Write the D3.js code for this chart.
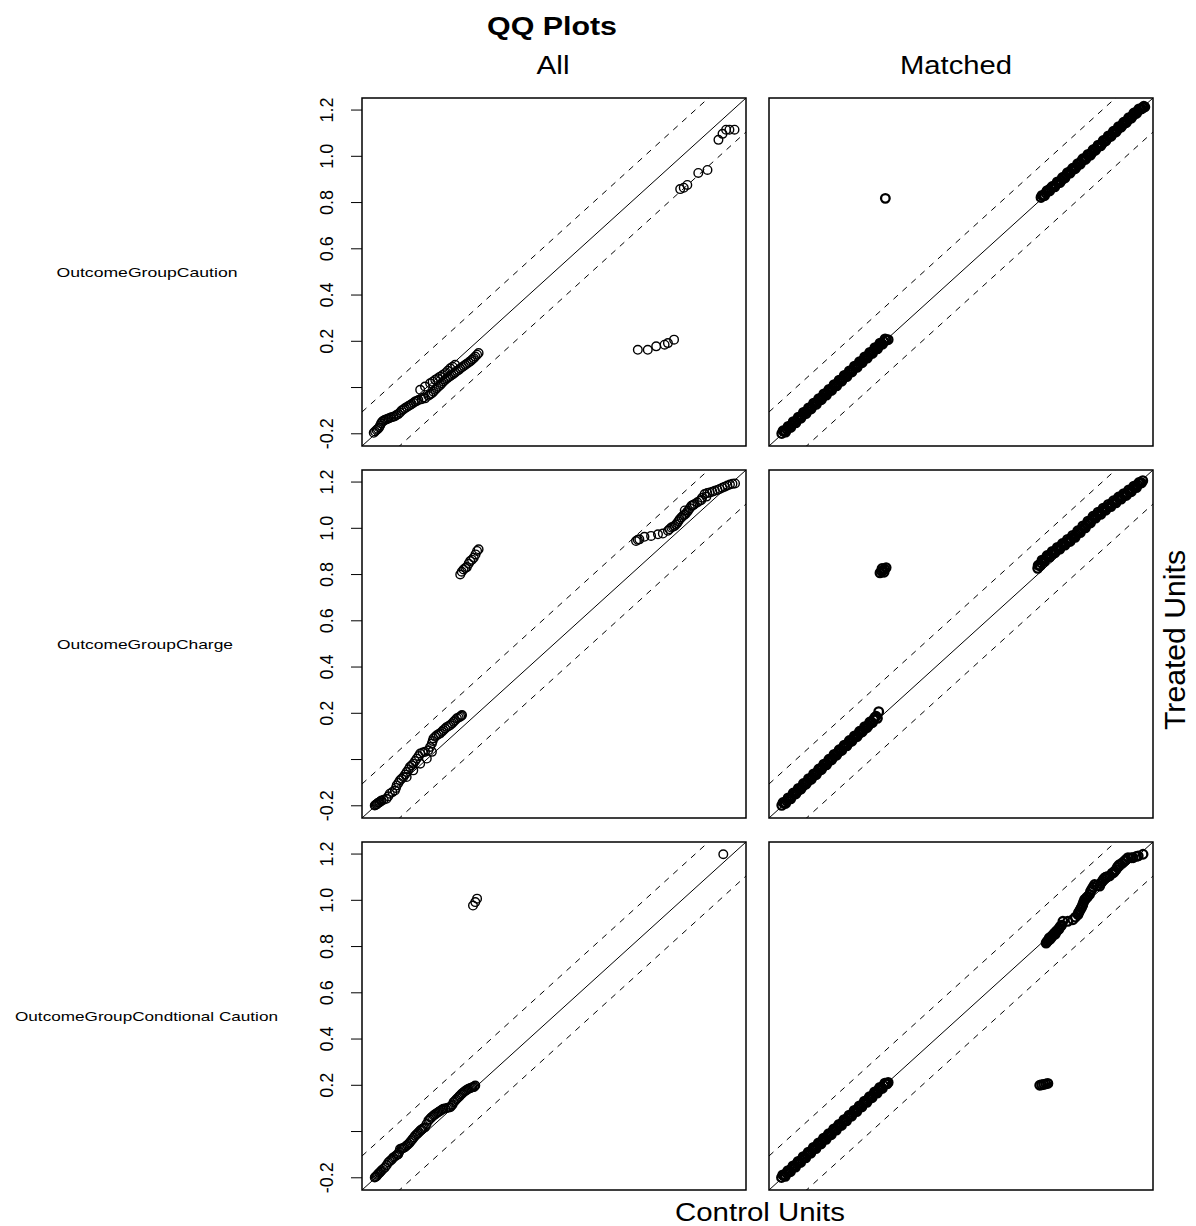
<!doctype html>
<html>
<head>
<script src="https://cdnjs.cloudflare.com/ajax/libs/d3/7.8.5/d3.min.js"></script>
<style>
  body { margin: 0; background: #fff; }
  text { font-family: "Liberation Sans", Arial, sans-serif; fill: #000; }
  .frame { fill: none; stroke: #000; stroke-width: 1.5; }
  .pt { fill: none; stroke: #000; stroke-width: 1.4; }
  .pt.dense { stroke-width: 2.3; }
  .ref { fill: none; stroke: #000; stroke-width: 1; }
  .dash { stroke-dasharray: 6,6; }
  .tick line { stroke: #000; stroke-width: 1; }
  .domain { display: none; }
</style>
</head>
<body>
<svg width="1196" height="1226"></svg>
<script>
// labels
const title = "QQ Plots";
const colLabels = ["All", "Matched"];
const rowLabels = ["OutcomeGroupCaution", "OutcomeGroupCharge", "OutcomeGroupCondtional Caution"];
const xLabel = "Control Units";
const yLabel = "Treated Units";
const yTicks = [-0.2, 0, 0.2, 0.4, 0.6, 0.8, 1.0, 1.2];
const yTickLabels = ["-0.2", "", "0.2", "0.4", "0.6", "0.8", "1.0", "1.2"];

// [control quantile, treated quantile]
const qqAllCaution = [
  [-0.209,-0.198],[-0.198,-0.186],[-0.188,-0.175],[-0.180,-0.157],[-0.172,-0.146],[-0.161,-0.140],[-0.151,-0.136],
  [-0.139,-0.131],[-0.126,-0.126],[-0.113,-0.117],[-0.100,-0.102],[-0.087,-0.092],[-0.073,-0.082],[-0.060,-0.073],
  [-0.047,-0.063],[-0.034,-0.056],[-0.021,-0.053],[-0.008,-0.049],[0.005,-0.038],[0.019,-0.027],[0.032,-0.012],
  [0.045,0.002],[0.058,0.016],[0.071,0.031],[0.084,0.042],[0.097,0.052],[0.110,0.063],[0.124,0.074],[0.137,0.086],
  [0.150,0.096],[0.163,0.106],[0.176,0.118],[0.189,0.132],[0.202,0.147],
  [-0.027,-0.012],[-0.008,0.002],[0.012,0.016],[0.032,0.031],[0.051,0.045],[0.071,0.060],[0.091,0.081],[0.110,0.096],
  [-0.204,-0.192],[-0.193,-0.181],[-0.184,-0.166],[-0.176,-0.150],[-0.166,-0.143],[-0.156,-0.138],[-0.145,-0.133],
  [-0.132,-0.128],[-0.120,-0.121],[-0.106,-0.110],[-0.093,-0.097],[-0.080,-0.087],[-0.066,-0.078],[-0.053,-0.068],
  [-0.040,-0.060],[-0.014,-0.045],[0.012,-0.032],[0.025,-0.020],[0.038,-0.005],[0.052,0.009],[0.064,0.024],
  [0.078,0.037],[0.090,0.047],[0.104,0.058],[0.117,0.069],[0.130,0.080],[0.144,0.091],[0.156,0.101],[0.170,0.112],
  [0.183,0.125],[0.196,0.140],[0.022,0.023],[0.042,0.038],[0.061,0.052],[0.081,0.070],[0.100,0.088],
  [0.826,0.161],[0.865,0.161],[0.898,0.176],[0.931,0.183],[0.944,0.190],[0.968,0.205],
  [0.992,0.856],[1.006,0.862],[1.020,0.874],[1.063,0.926],[1.099,0.939],[1.142,1.069],[1.158,1.095],
  [1.172,1.113],[1.185,1.113],[1.205,1.113]
];

const qqMatchedCaution = [
  [-0.205,-0.201],[-0.195,-0.192],[-0.185,-0.183],[-0.175,-0.171],[-0.165,-0.163],[-0.155,-0.151],[-0.145,-0.142],
  [-0.135,-0.131],[-0.125,-0.124],[-0.115,-0.110],[-0.105,-0.103],[-0.095,-0.091],[-0.085,-0.083],[-0.075,-0.070],
  [-0.065,-0.063],[-0.055,-0.050],[-0.045,-0.044],[-0.035,-0.031],[-0.025,-0.022],[-0.015,-0.012],[-0.005,-0.003],
  [0.005,0.009],[0.015,0.017],[0.025,0.030],[0.035,0.037],[0.045,0.049],[0.055,0.057],[0.065,0.070],[0.075,0.077],
  [0.085,0.089],[0.095,0.097],[0.105,0.109],[0.115,0.117],[0.125,0.129],[0.135,0.137],[0.145,0.149],[0.155,0.157],
  [0.165,0.169],[0.175,0.177],[0.185,0.189],[0.195,0.197],[0.205,0.203],[0.212,0.205],
  [-0.200,-0.189],[-0.190,-0.195],[-0.180,-0.170],[-0.170,-0.175],[-0.160,-0.150],[-0.150,-0.155],[-0.140,-0.130],
  [-0.130,-0.135],[-0.120,-0.110],[-0.110,-0.115],[-0.100,-0.090],[-0.090,-0.095],[-0.080,-0.070],[-0.070,-0.075],
  [-0.060,-0.050],[-0.050,-0.055],[-0.040,-0.030],[-0.030,-0.035],[-0.020,-0.010],[-0.010,-0.015],[0.000,0.010],
  [0.010,0.005],[0.020,0.030],[0.030,0.025],[0.040,0.050],[0.050,0.045],[0.060,0.070],[0.070,0.065],[0.080,0.090],
  [0.090,0.085],[0.100,0.110],[0.110,0.105],[0.120,0.130],[0.130,0.125],[0.140,0.150],[0.150,0.145],[0.160,0.170],
  [0.170,0.165],[0.180,0.190],[0.190,0.185],[0.200,0.208],
  [0.201,0.816],
  [0.811,0.820],[0.820,0.828],[0.830,0.840],[0.840,0.851],[0.850,0.860],[0.860,0.868],[0.870,0.876],[0.880,0.886],
  [0.890,0.893],[0.900,0.905],[0.910,0.917],[0.920,0.928],[0.930,0.936],[0.940,0.944],[0.950,0.953],[0.960,0.966],
  [0.970,0.977],[0.980,0.986],[0.990,0.993],[1.000,1.004],[1.010,1.013],[1.020,1.025],[1.030,1.036],[1.040,1.044],
  [1.050,1.052],[1.060,1.063],[1.070,1.074],[1.080,1.085],[1.090,1.094],[1.100,1.103],[1.110,1.113],[1.120,1.124],
  [1.130,1.133],[1.140,1.143],[1.150,1.153],[1.160,1.163],[1.170,1.173],[1.180,1.183],[1.190,1.193],[1.200,1.202],
  [1.210,1.208],[1.218,1.211],
  [0.815,0.829],[0.825,0.828],[0.835,0.849],[0.845,0.848],[0.855,0.867],[0.865,0.866],[0.875,0.887],[0.885,0.884],
  [0.895,0.906],[0.905,0.904],[0.915,0.927],[0.925,0.925],[0.935,0.946],[0.945,0.944],[0.955,0.966],[0.965,0.964],
  [0.975,0.987],[0.985,0.984],[0.995,1.006],[1.005,1.003],[1.015,1.026],[1.025,1.024],[1.035,1.046],[1.045,1.043],
  [1.055,1.066],[1.065,1.064],[1.075,1.086],[1.085,1.084],[1.095,1.106],[1.105,1.103],[1.115,1.126],[1.125,1.124],
  [1.135,1.145],[1.145,1.143],[1.155,1.165],[1.165,1.163],[1.175,1.185],[1.185,1.183],[1.195,1.203],[1.205,1.203],
  [1.214,1.214]
];

const qqAllCharge = [
  [-0.205,-0.201],[-0.198,-0.196],[-0.192,-0.189],[-0.185,-0.186],[-0.178,-0.179],[-0.159,-0.172],[-0.146,-0.150],
  [-0.126,-0.136],[-0.119,-0.114],[-0.106,-0.092],[-0.093,-0.078],[-0.080,-0.056],[-0.067,-0.034],[-0.054,-0.020],
  [-0.040,0.002],[-0.027,0.024],[-0.008,0.031],[0.005,0.038],[0.019,0.067],[0.025,0.089],[0.038,0.103],[0.051,0.111],
  [0.064,0.125],[0.078,0.139],[0.091,0.147],[0.104,0.161],[0.117,0.176],[0.130,0.183],[0.137,0.190],
  [-0.080,-0.078],[-0.054,-0.049],[-0.027,-0.020],[-0.001,0.002],[0.019,0.031],
  [-0.202,-0.199],[-0.195,-0.193],[-0.188,-0.188],[-0.181,-0.182],[-0.170,-0.176],[-0.152,-0.161],[-0.136,-0.143],
  [-0.122,-0.125],[-0.112,-0.103],[-0.100,-0.085],[-0.086,-0.067],[-0.073,-0.045],[-0.060,-0.027],[-0.047,-0.009],
  [-0.033,0.013],[-0.017,0.028],[0.012,0.052],[0.022,0.078],[0.032,0.096],[0.045,0.107],[0.058,0.118],[0.071,0.132],
  [0.085,0.143],[0.098,0.154],[0.110,0.168],[0.124,0.180],[0.134,0.187],
  [0.130,0.798],[0.136,0.810],[0.143,0.820],[0.150,0.826],[0.156,0.830],[0.163,0.845],[0.169,0.856],[0.176,0.862],
  [0.183,0.871],[0.190,0.885],[0.196,0.900],[0.202,0.907],
  [0.819,0.943],[0.826,0.948],[0.832,0.950],[0.852,0.961],[0.878,0.965],[0.905,0.972],[0.924,0.975],[0.944,0.987],
  [0.957,1.001],[0.970,1.008],[0.980,1.020],[0.990,1.037],[1.003,1.052],[1.013,1.060],[1.023,1.074],[1.036,1.095],
  [1.049,1.103],[1.069,1.117],[1.088,1.146],[1.108,1.153],[1.128,1.160],[1.147,1.168],[1.167,1.178],[1.187,1.187],
  [1.207,1.192],
  [1.010,1.075],[1.043,1.098],[1.075,1.120],[1.095,1.135],
  [0.950,0.994],[0.964,1.005],[0.975,1.014],[0.985,1.028],[0.997,1.045],[1.008,1.056],[1.018,1.067],[1.030,1.085],
  [1.042,1.099],[1.059,1.110],[1.078,1.130],[1.098,1.150],[1.118,1.156],[1.138,1.164],[1.157,1.173],[1.177,1.183],
  [1.197,1.190]
];

const qqMatchedCharge = [
  [-0.205,-0.200],[-0.195,-0.191],[-0.185,-0.181],[-0.175,-0.172],[-0.165,-0.161],[-0.155,-0.150],[-0.145,-0.141],
  [-0.135,-0.130],[-0.125,-0.120],[-0.115,-0.109],[-0.105,-0.099],[-0.095,-0.088],[-0.085,-0.078],[-0.075,-0.067],
  [-0.065,-0.057],[-0.055,-0.046],[-0.045,-0.035],[-0.035,-0.025],[-0.025,-0.014],[-0.015,-0.004],[-0.005,0.006],
  [0.005,0.017],[0.015,0.028],[0.025,0.037],[0.035,0.049],[0.045,0.058],[0.055,0.068],[0.065,0.077],[0.075,0.088],
  [0.085,0.097],[0.095,0.107],[0.105,0.116],[0.115,0.126],[0.125,0.135],[0.135,0.146],[0.145,0.158],[0.155,0.170],
  [0.165,0.185],[0.175,0.205],
  [-0.200,-0.188],[-0.190,-0.192],[-0.180,-0.168],[-0.170,-0.172],[-0.160,-0.147],[-0.150,-0.151],[-0.140,-0.127],
  [-0.130,-0.130],[-0.120,-0.106],[-0.110,-0.109],[-0.100,-0.085],[-0.090,-0.088],[-0.080,-0.064],[-0.070,-0.067],
  [-0.060,-0.043],[-0.050,-0.046],[-0.040,-0.022],[-0.030,-0.025],[-0.020,-0.001],[-0.010,-0.004],[0.000,0.020],
  [0.010,0.017],[0.020,0.040],[0.030,0.037],[0.040,0.060],[0.050,0.057],[0.060,0.080],[0.070,0.077],[0.080,0.100],
  [0.090,0.097],[0.100,0.120],[0.110,0.117],[0.120,0.140],[0.130,0.137],[0.140,0.160],[0.150,0.157],[0.160,0.180],
  [0.170,0.176],
  [0.180,0.805],[0.186,0.812],[0.192,0.816],[0.198,0.822],[0.204,0.828],[0.188,0.824],[0.196,0.808],
  [0.798,0.825],[0.805,0.838],[0.812,0.848],[0.820,0.857],[0.830,0.868],[0.840,0.877],[0.850,0.886],[0.860,0.895],
  [0.870,0.903],[0.880,0.912],[0.890,0.920],[0.900,0.929],[0.910,0.937],[0.920,0.945],[0.930,0.953],[0.940,0.962],
  [0.950,0.972],[0.960,0.982],[0.970,0.993],[0.980,1.003],[0.990,1.014],[1.000,1.025],[1.010,1.035],[1.020,1.046],
  [1.030,1.054],[1.040,1.062],[1.050,1.071],[1.060,1.080],[1.070,1.088],[1.080,1.096],[1.090,1.104],[1.100,1.112],
  [1.110,1.120],[1.120,1.128],[1.130,1.136],[1.140,1.143],[1.150,1.151],[1.160,1.159],[1.170,1.168],[1.180,1.177],
  [1.190,1.186],[1.200,1.195],[1.210,1.204],
  [0.800,0.838],[0.808,0.836],[0.815,0.860],[0.825,0.855],[0.835,0.880],[0.845,0.873],[0.855,0.898],[0.865,0.891],
  [0.875,0.915],[0.885,0.908],[0.895,0.932],[0.905,0.925],[0.915,0.950],[0.925,0.941],[0.935,0.967],[0.945,0.959],
  [0.955,0.987],[0.965,0.979],[0.975,1.008],[0.985,1.000],[0.995,1.029],[1.005,1.021],[1.015,1.050],[1.025,1.042],
  [1.035,1.068],[1.045,1.058],[1.055,1.085],[1.065,1.076],[1.075,1.101],[1.085,1.092],[1.095,1.117],[1.105,1.108],
  [1.115,1.133],[1.125,1.124],[1.135,1.148],[1.145,1.140],[1.155,1.164],[1.165,1.156],[1.175,1.180],[1.185,1.174],
  [1.195,1.196],[1.205,1.194]
];

const qqAllCondCaution = [
  [-0.205,-0.201],[-0.198,-0.195],[-0.192,-0.186],[-0.185,-0.179],[-0.178,-0.170],[-0.165,-0.157],[-0.152,-0.136],
  [-0.140,-0.125],[-0.132,-0.114],[-0.120,-0.105],[-0.113,-0.100],[-0.106,-0.078],[-0.095,-0.074],[-0.087,-0.070],
  [-0.077,-0.060],[-0.067,-0.049],[-0.057,-0.035],[-0.047,-0.020],[-0.037,-0.010],[-0.027,0.002],[-0.018,0.010],
  [-0.008,0.016],[0.005,0.045],[0.015,0.057],[0.025,0.067],[0.035,0.075],[0.045,0.082],[0.055,0.090],[0.064,0.096],
  [0.078,0.100],[0.091,0.103],[0.100,0.115],[0.104,0.125],[0.114,0.136],[0.124,0.147],[0.133,0.158],[0.143,0.168],
  [0.153,0.176],[0.163,0.183],[0.173,0.187],[0.183,0.190],[0.189,0.197],
  [-0.202,-0.198],[-0.195,-0.190],[-0.188,-0.182],[-0.182,-0.175],[-0.172,-0.164],[-0.158,-0.147],[-0.146,-0.130],
  [-0.136,-0.120],[-0.126,-0.110],[-0.116,-0.102],[-0.109,-0.090],[-0.100,-0.076],[-0.091,-0.072],[-0.082,-0.065],
  [-0.072,-0.055],[-0.062,-0.042],[-0.052,-0.028],[-0.042,-0.015],[-0.032,-0.004],[-0.022,0.006],[-0.013,0.013],
  [-0.002,0.030],[0.010,0.051],[0.020,0.062],[0.030,0.071],[0.040,0.079],[0.050,0.086],[0.060,0.093],[0.071,0.098],
  [0.085,0.102],[0.096,0.109],[0.109,0.130],[0.119,0.142],[0.128,0.152],[0.138,0.163],[0.148,0.172],[0.158,0.180],
  [0.168,0.185],[0.178,0.189],[0.186,0.194],
  [0.180,0.975],[0.189,0.990],[0.196,1.005],
  [1.161,1.197]
];

const qqMatchedCondCaution = [
  [-0.206,-0.201],[-0.196,-0.193],[-0.186,-0.182],[-0.176,-0.173],[-0.166,-0.162],[-0.156,-0.153],[-0.146,-0.142],
  [-0.136,-0.133],[-0.126,-0.122],[-0.116,-0.113],[-0.106,-0.102],[-0.096,-0.093],[-0.086,-0.082],[-0.076,-0.073],
  [-0.066,-0.062],[-0.056,-0.053],[-0.046,-0.042],[-0.036,-0.033],[-0.026,-0.022],[-0.016,-0.013],[-0.006,-0.002],
  [0.004,0.007],[0.014,0.018],[0.024,0.027],[0.034,0.038],[0.044,0.047],[0.054,0.058],[0.064,0.067],[0.074,0.078],
  [0.084,0.087],[0.094,0.098],[0.104,0.107],[0.114,0.118],[0.124,0.127],[0.134,0.138],[0.144,0.147],[0.154,0.158],
  [0.164,0.167],[0.174,0.178],[0.184,0.187],[0.194,0.197],[0.204,0.205],[0.212,0.210],
  [-0.201,-0.190],[-0.191,-0.196],[-0.181,-0.171],[-0.171,-0.176],[-0.161,-0.151],[-0.151,-0.156],[-0.141,-0.131],
  [-0.131,-0.136],[-0.121,-0.111],[-0.111,-0.116],[-0.101,-0.091],[-0.091,-0.096],[-0.081,-0.071],[-0.071,-0.076],
  [-0.061,-0.051],[-0.051,-0.056],[-0.041,-0.031],[-0.031,-0.036],[-0.021,-0.011],[-0.011,-0.016],[-0.001,0.009],
  [0.009,0.004],[0.019,0.029],[0.029,0.024],[0.039,0.049],[0.049,0.044],[0.059,0.069],[0.069,0.064],[0.079,0.089],
  [0.089,0.084],[0.099,0.109],[0.109,0.104],[0.119,0.129],[0.129,0.124],[0.139,0.149],[0.149,0.144],[0.159,0.169],
  [0.169,0.164],[0.179,0.189],[0.189,0.184],[0.199,0.207],[0.208,0.204],
  [0.806,0.198],[0.814,0.200],[0.822,0.202],[0.830,0.204],[0.838,0.206],
  [0.831,0.813],[0.838,0.822],[0.844,0.835],[0.850,0.840],[0.857,0.846],[0.864,0.856],[0.870,0.862],[0.877,0.870],
  [0.883,0.878],[0.897,0.907],[0.916,0.907],[0.936,0.914],[0.946,0.925],[0.956,0.936],[0.962,0.950],[0.969,0.965],
  [0.975,0.980],[0.982,1.001],[0.990,1.010],[1.001,1.023],[1.010,1.045],[1.021,1.066],[1.031,1.062],[1.041,1.059],
  [1.051,1.080],[1.061,1.095],[1.070,1.100],[1.080,1.103],[1.090,1.115],[1.100,1.124],[1.110,1.140],[1.120,1.153],
  [1.130,1.160],[1.139,1.168],[1.152,1.182],[1.165,1.182],[1.172,1.182],[1.185,1.188],[1.192,1.190],[1.211,1.197],
  [0.834,0.818],[0.841,0.828],[0.847,0.830],[0.853,0.838],[0.860,0.850],[0.867,0.852],[0.873,0.865],[0.880,0.872],
  [0.887,0.885],[0.892,0.890],[0.958,0.945],[0.965,0.958],[0.972,0.972],[0.978,0.990],[0.986,1.004],[0.995,1.015],
  [1.005,1.035],[1.015,1.055],[1.046,1.072],[1.056,1.088],[1.065,1.098],[1.095,1.118],[1.105,1.130],[1.115,1.148],
  [1.145,1.175]
];

const panelData = [
  [qqAllCaution, qqMatchedCaution],
  [qqAllCharge, qqMatchedCharge],
  [qqAllCondCaution, qqMatchedCondCaution]
];

const svg = d3.select("svg");
const colX = [362, 769], rowY = [98, 470, 842];
const pw = 384, ph = 348;
const domain = [-0.255, 1.25];
const band = 0.147;

rowY.forEach((top, r) => {
  colX.forEach((left, c) => {
    const x = d3.scaleLinear().domain(domain).range([left, left + pw]);
    const y = d3.scaleLinear().domain(domain).range([top + ph, top]);
    const id = `clip${r}${c}`;
    svg.append("clipPath").attr("id", id)
      .append("rect").attr("x", left).attr("y", top).attr("width", pw).attr("height", ph);
    const g = svg.append("g").attr("clip-path", `url(#${id})`);

    [0, band, -band].forEach(a => {
      g.append("line")
        .attr("class", a === 0 ? "ref" : "ref dash")
        .attr("x1", x(domain[0])).attr("y1", y(domain[0] + a))
        .attr("x2", x(domain[1])).attr("y2", y(domain[1] + a));
    });

    g.selectAll("circle.pt").data(panelData[r][c]).join("circle")
      .attr("class", c === 1 ? "pt dense" : "pt")
      .attr("cx", d => x(d[0]))
      .attr("cy", d => y(d[1]))
      .attr("r", 4.3);

    svg.append("rect").attr("class", "frame")
      .attr("x", left).attr("y", top).attr("width", pw).attr("height", ph);

    if (c === 0) {
      const ax = svg.append("g").attr("transform", `translate(${left},0)`)
        .call(d3.axisLeft(y).tickValues(yTicks).tickFormat((d, i) => yTickLabels[i]).tickSize(11));
      ax.selectAll("text")
        .attr("x", 0).attr("y", -29).attr("dy", 0)
        .attr("transform", "rotate(-90)")
        .attr("text-anchor", "middle")
        .style("font-size", "18px")
        .style("font-family", "'Liberation Sans', Arial, sans-serif");
    }
  });
});

// titles and labels
svg.append("text").attr("x", 552).attr("y", 35).attr("text-anchor", "middle")
  .attr("font-size", 26).attr("font-weight", "bold")
  .attr("textLength", 130).attr("lengthAdjust", "spacingAndGlyphs").text(title);

const colCenters = [553, 956], colWidths = [33, 112];
colLabels.forEach((t, i) => {
  svg.append("text").attr("x", colCenters[i]).attr("y", 74).attr("text-anchor", "middle")
    .attr("font-size", 25).attr("textLength", colWidths[i]).attr("lengthAdjust", "spacingAndGlyphs").text(t);
});

const rowCenters = [147, 145, 146.5], rowWidths = [181, 176, 263];
rowLabels.forEach((t, i) => {
  svg.append("text").attr("x", rowCenters[i]).attr("y", rowY[i] + ph / 2 + 5).attr("text-anchor", "middle")
    .attr("font-size", 13).attr("textLength", rowWidths[i]).attr("lengthAdjust", "spacingAndGlyphs").text(t);
});

svg.append("text").attr("x", 760).attr("y", 1221).attr("text-anchor", "middle")
  .attr("font-size", 25).attr("textLength", 170).attr("lengthAdjust", "spacingAndGlyphs").text(xLabel);

svg.append("text").attr("transform", "translate(1185,640) rotate(-90)").attr("text-anchor", "middle")
  .attr("font-size", 29).attr("textLength", 180).attr("lengthAdjust", "spacingAndGlyphs").text(yLabel);
</script>
</body>
</html>
